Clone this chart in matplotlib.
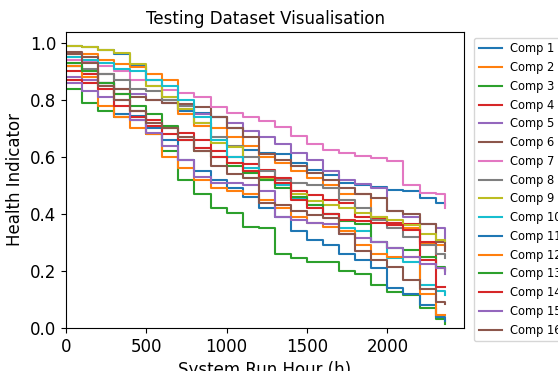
import matplotlib
matplotlib.use("Agg")
import matplotlib.pyplot as plt

hours = [0, 100, 200, 300, 400, 500, 600, 700, 800, 900, 1000, 1100, 1200,
         1300, 1400, 1500, 1600, 1700, 1800, 1900, 2000, 2100, 2200, 2300, 2360]

comp1 = [0.99, 0.985, 0.975, 0.96, 0.92, 0.87, 0.80, 0.76, 0.755, 0.74, 0.70, 0.625, 0.615,
         0.61, 0.58, 0.555, 0.535, 0.51, 0.50, 0.495, 0.485, 0.48, 0.455, 0.44, 0.43]
comp2 = [0.96, 0.96, 0.94, 0.925, 0.915, 0.89, 0.87, 0.75, 0.71, 0.70, 0.67, 0.64, 0.60,
         0.58, 0.55, 0.525, 0.50, 0.47, 0.47, 0.39, 0.36, 0.35, 0.295, 0.29, 0.285]
comp3 = [0.84, 0.79, 0.76, 0.74, 0.73, 0.68, 0.62, 0.52, 0.47, 0.42, 0.405, 0.355, 0.35,
         0.26, 0.245, 0.232, 0.23, 0.20, 0.19, 0.15, 0.125, 0.117, 0.07, 0.03, 0.015]
comp4 = [0.90, 0.89, 0.86, 0.82, 0.76, 0.73, 0.70, 0.685, 0.66, 0.62, 0.60, 0.575, 0.555,
         0.525, 0.48, 0.465, 0.45, 0.44, 0.39, 0.385, 0.37, 0.365, 0.30, 0.21, 0.205]
comp5 = [0.88, 0.87, 0.86, 0.84, 0.82, 0.80, 0.79, 0.77, 0.75, 0.74, 0.72, 0.69, 0.67,
         0.645, 0.615, 0.59, 0.55, 0.52, 0.505, 0.49, 0.41, 0.39, 0.365, 0.35, 0.30]
comp6 = [0.97, 0.95, 0.89, 0.84, 0.81, 0.80, 0.79, 0.785, 0.775, 0.74, 0.70, 0.67, 0.61,
         0.59, 0.57, 0.545, 0.52, 0.49, 0.47, 0.455, 0.41, 0.40, 0.365, 0.30, 0.27]
comp7 = [0.94, 0.935, 0.92, 0.90, 0.87, 0.85, 0.835, 0.825, 0.81, 0.775, 0.755, 0.74, 0.725,
         0.705, 0.675, 0.645, 0.625, 0.615, 0.605, 0.595, 0.585, 0.50, 0.475, 0.47, 0.42]
comp8 = [0.92, 0.91, 0.89, 0.87, 0.84, 0.83, 0.80, 0.78, 0.72, 0.67, 0.64, 0.60, 0.55,
         0.52, 0.51, 0.50, 0.49, 0.45, 0.42, 0.38, 0.35, 0.32, 0.29, 0.26, 0.245]
comp9 = [0.99, 0.985, 0.975, 0.965, 0.925, 0.85, 0.81, 0.77, 0.72, 0.65, 0.635, 0.55, 0.525,
         0.50, 0.47, 0.445, 0.43, 0.42, 0.405, 0.39, 0.38, 0.36, 0.33, 0.31, 0.305]
comp10 = [0.95, 0.94, 0.93, 0.91, 0.90, 0.87, 0.85, 0.80, 0.74, 0.66, 0.60, 0.56, 0.52,
          0.50, 0.455, 0.43, 0.40, 0.35, 0.34, 0.30, 0.245, 0.23, 0.15, 0.13, 0.115]
comp11 = [0.92, 0.90, 0.86, 0.75, 0.745, 0.70, 0.66, 0.59, 0.55, 0.52, 0.49, 0.46, 0.42,
          0.39, 0.34, 0.31, 0.29, 0.26, 0.24, 0.21, 0.14, 0.12, 0.08, 0.04, 0.025]
comp12 = [0.92, 0.88, 0.78, 0.74, 0.70, 0.68, 0.60, 0.56, 0.52, 0.49, 0.48, 0.47, 0.45,
          0.42, 0.39, 0.37, 0.355, 0.34, 0.29, 0.26, 0.25, 0.25, 0.12, 0.045, 0.045]
comp13 = [0.93, 0.90, 0.86, 0.82, 0.78, 0.75, 0.71, 0.66, 0.62, 0.60, 0.57, 0.545, 0.52,
          0.49, 0.46, 0.43, 0.40, 0.375, 0.365, 0.30, 0.28, 0.275, 0.25, 0.215, 0.20]
comp14 = [0.87, 0.86, 0.84, 0.78, 0.74, 0.71, 0.68, 0.66, 0.63, 0.60, 0.58, 0.55, 0.53,
          0.51, 0.45, 0.42, 0.40, 0.38, 0.375, 0.37, 0.36, 0.345, 0.24, 0.145, 0.145]
comp15 = [0.86, 0.83, 0.81, 0.80, 0.73, 0.685, 0.64, 0.59, 0.53, 0.51, 0.51, 0.50, 0.48,
          0.39, 0.38, 0.37, 0.365, 0.33, 0.315, 0.30, 0.28, 0.25, 0.225, 0.21, 0.19]
comp16 = [0.96, 0.93, 0.85, 0.80, 0.76, 0.72, 0.70, 0.67, 0.62, 0.57, 0.54, 0.525, 0.44,
          0.43, 0.41, 0.395, 0.385, 0.33, 0.27, 0.24, 0.215, 0.17, 0.135, 0.09, 0.085]

series = [comp1, comp2, comp3, comp4, comp5, comp6, comp7, comp8,
          comp9, comp10, comp11, comp12, comp13, comp14, comp15, comp16]

fig = plt.figure(figsize=(5.58, 3.71), dpi=100)
ax = fig.add_axes([0.118, 0.116, 0.714, 0.798])

for i, s in enumerate(series):
    ax.plot(hours, s, drawstyle='steps-post', lw=1.5, label=f'Comp {i + 1}')

# Set chart title and label axis.
ax.set_title("Testing Dataset Visualisation", fontsize=12)
ax.set_xlabel('System Run Hour (h)', fontsize=12)
ax.set_ylabel('Health Indicator', fontsize=12)
ax.tick_params(axis='both', which='major', labelsize=12)
ax.set_xlim(left=0)
ax.set_ylim(bottom=0)
ax.legend(loc='upper left', bbox_to_anchor=(1.01, 1), fontsize=8.3,
          handlelength=2.0, handletextpad=0.7)

fig.savefig('out.png', dpi=100)
